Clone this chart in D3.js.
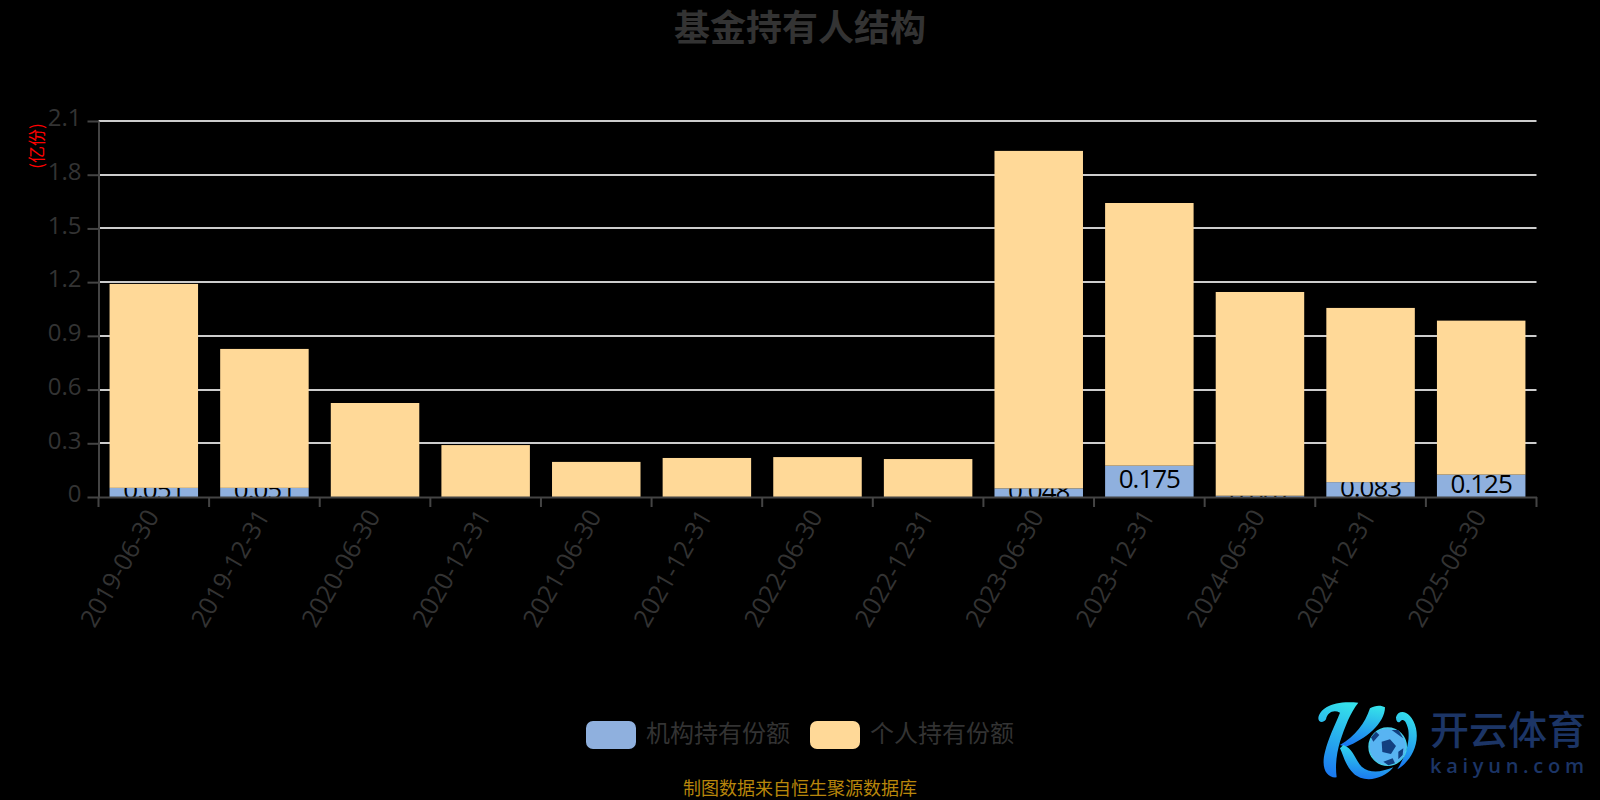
<!DOCTYPE html>
<html>
<head>
<meta charset="utf-8">
<script src="https://cdn.jsdelivr.net/npm/d3@7"></script>
<style>
html, body { margin: 0; padding: 0; background: #000; overflow: hidden; }
text { font-family: "Open Sans", "Noto Sans CJK SC", sans-serif; }
.cjk { font-family: "Noto Sans CJK SC", sans-serif; }
</style>
</head>
<body>
<div id="content"></div>
<script>
// data (unit: 亿份)
const dates = ['2019-06-30', '2019-12-31', '2020-06-30', '2020-12-31', '2021-06-30', '2021-12-31', '2022-06-30',
    '2022-12-31', '2023-06-30', '2023-12-31', '2024-06-30', '2024-12-31', '2025-06-30']
const institution = [0.051, 0.051, 0, null, 0, 0, 0, 0, 0.048, 0.175, 0.007, 0.083, 0.125]
const personal = [1.139, 0.776, 0.525, 0.29, 0.196, 0.218, 0.223, 0.212, 1.885, 1.467, 1.138, 0.973, 0.86]
const yTicks = [0, 0.3, 0.6, 0.9, 1.2, 1.5, 1.8, 2.1]
const seriesNames = ['机构持有份额', '个人持有份额']
const colors = ['#8fb0de', '#ffd998']

const svg = d3.select('#content')
    .append('svg')
    .attr('width', 1600)
    .attr('height', 800)
    .style('display', 'block')

const x = d3.scaleBand().domain(dates).range([98.5, 1536.5]).paddingInner(0.2).paddingOuter(0.1)
const y = d3.scaleLinear().domain([0, 2.1]).range([497, 121])

// grid lines
svg.append('g')
    .selectAll('line')
    .data(yTicks.filter(d => d > 0))
    .join('line')
    .attr('x1', 98.5)
    .attr('x2', 1536.5)
    .attr('y1', d => Math.round(y(d)))
    .attr('y2', d => Math.round(y(d)))
    .attr('stroke', '#ccc')
    .attr('stroke-width', 2)

// institution bars, their labels go under the personal bars like in the original
const inst = svg.append('g')
inst.selectAll('rect')
    .data(dates)
    .join('rect')
    .attr('x', d => x(d))
    .attr('width', x.bandwidth())
    .attr('y', (d, i) => y(institution[i] || 0))
    .attr('height', (d, i) => y(0) - y(institution[i] || 0))
    .attr('fill', colors[0])

inst.selectAll('text')
    .data(dates.filter((d, i) => institution[i] !== null))
    .join('text')
    .attr('x', d => x(d) + x.bandwidth() / 2)
    .attr('y', d => y(institution[dates.indexOf(d)] / 2) + 7)
    .attr('text-anchor', 'middle')
    .attr('font-size', 26)
    .attr('letter-spacing', -1)
    .attr('fill', '#000')
    .text(d => institution[dates.indexOf(d)])

svg.append('g')
    .selectAll('rect')
    .data(dates)
    .join('rect')
    .attr('x', d => x(d))
    .attr('width', x.bandwidth())
    .attr('y', (d, i) => y((institution[i] || 0) + personal[i]))
    .attr('height', (d, i) => y(institution[i] || 0) - y((institution[i] || 0) + personal[i]))
    .attr('fill', colors[1])

// axes
const yAxis = svg.append('g')
    .attr('transform', 'translate(98.5,0)')
    .call(d3.axisLeft(y).tickValues(yTicks).tickFormat(d => d).tickSize(11).tickPadding(6).tickSizeOuter(0))
yAxis.selectAll('text').attr('font-size', 24).attr('fill', '#333').attr('font-family', '"Open Sans"').attr('dy', '0.2em')
yAxis.selectAll('line, path').attr('stroke', '#444').attr('stroke-width', 2)

const xAxis = svg.append('g')
    .attr('transform', 'translate(0,497)')
    .call(d3.axisBottom(x).tickFormat(d => d).tickSize(0).tickPadding(0))
xAxis.select('path').attr('stroke', '#444').attr('stroke-width', 2)
xAxis.selectAll('.tick text')
    .attr('font-size', 25)
    .attr('fill', '#333')
    .attr('font-family', '"Open Sans"')
    .attr('text-anchor', 'end')
    .attr('dy', 0)
    .attr('transform', 'translate(6,19) rotate(-60)')

// ticks sit between the bars
svg.append('g')
    .selectAll('line')
    .data(d3.range(dates.length + 1))
    .join('line')
    .attr('x1', i => 98.5 + i * x.step())
    .attr('x2', i => 98.5 + i * x.step())
    .attr('y1', 497)
    .attr('y2', 507)
    .attr('stroke', '#444')
    .attr('stroke-width', 2)

// title and axis name
svg.append('text')
    .attr('class', 'cjk')
    .attr('x', 800)
    .attr('y', 41)
    .attr('text-anchor', 'middle')
    .attr('font-size', 36)
    .attr('font-weight', 700)
    .attr('fill', '#333')
    .text('基金持有人结构')

svg.append('text')
    .attr('class', 'cjk')
    .attr('transform', 'translate(43,146) rotate(-90)')
    .attr('text-anchor', 'middle')
    .attr('font-size', 17)
    .attr('fill', '#f00')
    .text('(亿份)')

// legend
const legendX = [586, 810]
seriesNames.forEach((name, i) => {
    svg.append('rect')
        .attr('x', legendX[i])
        .attr('y', 721)
        .attr('width', 50)
        .attr('height', 28)
        .attr('rx', 7)
        .attr('fill', colors[i])
    svg.append('text')
        .attr('class', 'cjk')
        .attr('x', legendX[i] + 60)
        .attr('y', 742)
        .attr('font-size', 24)
        .attr('fill', '#333')
        .text(name)
})

svg.append('text')
    .attr('class', 'cjk')
    .attr('x', 800)
    .attr('y', 795)
    .attr('text-anchor', 'middle')
    .attr('font-size', 18)
    .attr('fill', '#b8860b')
    .text('制图数据来自恒生聚源数据库')

// watermark logo, drawn by hand
const defs = svg.append('defs')
const grad = defs.append('linearGradient')
    .attr('id', 'logoGrad')
    .attr('x1', 0.6).attr('y1', 0).attr('x2', 0.4).attr('y2', 1)
grad.append('stop').attr('offset', '0').attr('stop-color', '#35e0ea')
grad.append('stop').attr('offset', '1').attr('stop-color', '#1a78f0')

const logo = svg.append('g').attr('transform', 'translate(1290,680) scale(0.3333)')
const logoPaths = [
    'M85,115 C88,85 130,60 205,68 C180,100 165,140 150,185 C140,220 135,255 140,292 C110,295 92,265 105,215 C115,175 135,135 150,98 C130,88 112,98 108,118 C100,130 85,128 85,115Z',
    'M285,82 C285,130 225,180 168,200 L150,195 C195,170 225,130 240,85 C255,75 275,75 285,82Z',
    'M160,195 C190,205 195,240 215,260 C240,280 270,278 310,262 C280,300 220,310 190,280 C165,255 160,225 150,205Z',
    'M318,112 C325,85 365,90 378,145 C390,200 355,250 322,268 C345,230 360,190 355,150 C350,125 340,112 330,125 C325,130 318,125 318,112Z'
]
logo.selectAll('path.k')
    .data(logoPaths)
    .join('path')
    .attr('class', 'k')
    .attr('d', d => d)
    .attr('fill', 'url(#logoGrad)')
logo.append('circle')
    .attr('cx', 293).attr('cy', 200).attr('r', 56)
    .attr('fill', '#58b4f2')
    .attr('stroke', '#45d0ea')
    .attr('stroke-width', 4)
logo.append('path')
    .attr('d', 'M275,185 L300,178 L318,198 L303,222 L277,216Z M250,185 L268,165 L258,155 L243,172Z M305,150 L330,168 L340,175 L325,150Z M280,245 L308,235 L315,250 L295,256Z M325,215 L340,205 L338,225 L325,238Z')
    .attr('fill', '#123f80')
svg.append('text')
    .attr('class', 'cjk')
    .attr('x', 1430)
    .attr('y', 744)
    .attr('font-size', 39)
    .attr('font-weight', 500)
    .attr('fill', '#1c3566')
    .text('开云体育')
svg.append('text')
    .attr('x', 1430)
    .attr('y', 773)
    .attr('font-size', 20)
    .attr('font-weight', 600)
    .attr('textLength', 154)
    .attr('fill', '#1c3566')
    .text('kaiyun.com')
</script>
</body>
</html>
